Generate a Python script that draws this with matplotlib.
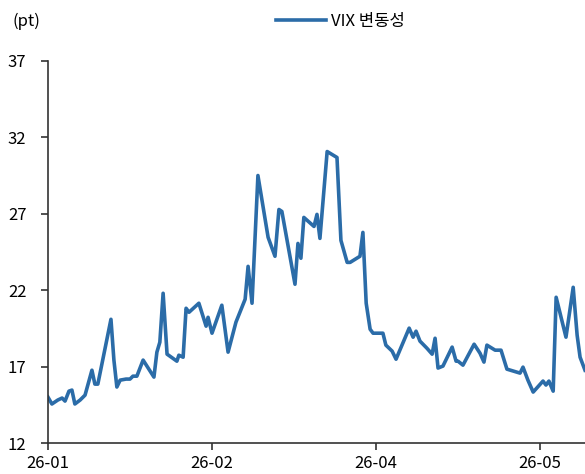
import matplotlib
matplotlib.use("Agg")
import matplotlib.pyplot as plt

plt.rcParams['font.family'] = ['Noto Sans CJK KR', 'DejaVu Sans']

# trading-day index (ticks every 50 days) and VIX level
day = [0, 1.2, 3.0, 4.3, 5.2, 6.4, 7.3, 8.2, 9.8, 11.3, 13.4, 14.3, 15.2, 19.2, 20.1,
       21.0, 22.0, 23.8, 25.0, 25.9, 27.1, 29.0, 32.3, 33.2, 34.1, 35.1, 36.3, 39.3,
       39.9, 41.2, 42.1, 43.0, 46.0, 48.2, 48.8, 50.0, 53.0, 54.9, 57.3, 60.1, 61.0,
       62.2, 64.0, 67.1, 69.2, 70.4, 71.3, 75.3, 76.2, 77.1, 78.0, 81.1, 82.0, 82.9,
       85.1, 88.1, 89.3, 91.2, 92.1, 95.1, 96.0, 97.0, 98.2, 99.1, 102.1, 103.0, 104.9,
       106.1, 110.1, 111.3, 112.2, 113.4, 115.5, 117.1, 118.0, 118.9, 120.4, 123.2,
       124.4, 125.0, 126.5, 129.9, 131.7, 132.9, 133.8, 136.3, 138.1, 139.9, 143.9,
       144.8, 146.3, 147.9, 150.9, 151.8, 152.7, 154.0, 154.9, 157.9, 160.1, 161.3,
       162.2, 163.7]
vix = [15.00, 14.55, 14.81, 14.94, 14.74, 15.39, 15.46, 14.55, 14.81, 15.13, 16.76,
       15.85, 15.85, 20.09, 17.42, 15.66, 16.11, 16.18, 16.18, 16.37, 16.37, 17.42,
       16.31, 17.94, 18.59, 21.79, 17.81, 17.35, 17.74, 17.61, 20.81, 20.55, 21.14,
       19.64, 20.22, 19.18, 21.01, 17.94, 19.90, 21.40, 23.55, 21.14, 29.49, 25.45,
       24.21, 27.27, 27.14, 22.38, 25.05, 24.08, 26.75, 26.16, 26.95, 25.38, 31.06,
       30.67, 25.25, 23.81, 23.81, 24.21, 25.77, 21.14, 19.44, 19.18, 19.18, 18.40,
       18.01, 17.48, 19.51, 18.92, 19.31, 18.66, 18.20, 17.81, 18.85, 16.90, 17.03,
       18.27, 17.35, 17.35, 17.09, 18.46, 17.87, 17.29, 18.40, 18.07, 18.07, 16.83,
       16.57, 16.96, 16.11, 15.33, 16.05, 15.79, 16.05, 15.39, 21.53, 18.92, 22.18,
       19.05, 17.61, 16.76]

tick_pos = [0, 50, 100, 150]
tick_lab = ['26-01', '26-02', '26-04', '26-05']
y_ticks = [12, 17, 22, 27, 32, 37]

fig = plt.figure(figsize=(5.85, 4.74), dpi=100)
ax = fig.add_axes([0.082, 0.0654, 0.918, 0.8066])

ax.plot(day, vix, color='#2B6CA8', lw=2.6, label='VIX 변동성')

ax.set_xlim(0, 163.7)
ax.set_ylim(12, 37)
ax.set_yticks(y_ticks)
ax.set_xticks(tick_pos)
ax.set_xticklabels(tick_lab)

for s in ['top', 'right']:
    ax.spines[s].set_visible(False)
for s in ['left', 'bottom']:
    ax.spines[s].set_color('#333333')
    ax.spines[s].set_linewidth(1.2)
ax.tick_params(axis='both', colors='#333333', labelcolor='black', labelsize=12,
               length=5, width=1.2)
ax.tick_params(axis='y', pad=10.5)

fig.text(0.022, 0.955, '(pt)', fontsize=12, va='center', ha='left')
ax.legend(loc='center', bbox_to_anchor=(0.582, 0.955), bbox_transform=fig.transFigure,
          frameon=False, fontsize=12, handlelength=3.0, handletextpad=0.3)

fig.savefig('out.png', dpi=100)
